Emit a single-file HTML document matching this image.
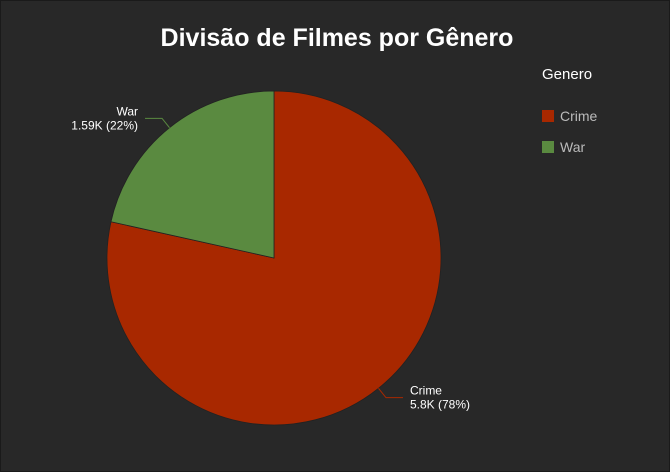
<!DOCTYPE html>
<html><head><meta charset="utf-8"><style>
html,body{margin:0;padding:0;background:#282828;}
svg{display:block;font-family:"Liberation Sans",sans-serif;}
</style></head><body>
<svg width="670" height="472" viewBox="0 0 670 472">
<rect x="0" y="0" width="670" height="472" fill="#282828" stroke="#1a1a1a" stroke-width="2"/>
<text x="337" y="46" text-anchor="middle" fill="#ffffff" font-size="25" font-weight="bold">Divisão de Filmes por Gênero</text>
<g id="slices"></g>
<g id="labels"></g>
<text x="542" y="79" fill="#ffffff" font-size="15">Genero</text>
<g id="legend"></g>
</svg>
<script>
const categories = ["Crime", "War"];
const values = [5800, 1590];
const valueLabels = ["5.8K", "1.59K"];
const colors = ["#a82800", "#5a8a40"];
const NS = "http://www.w3.org/2000/svg";
const cx = 274, cy = 258, r = 167;
const total = values.reduce((a, b) => a + b, 0);
const slices = document.getElementById("slices");
const labels = document.getElementById("labels");
const legend = document.getElementById("legend");
function pt(a, rr) { return [cx + rr * Math.sin(a), cy - rr * Math.cos(a)]; }
let start = 0;
values.forEach((v, i) => {
  const ang = v / total * 2 * Math.PI;
  const end = start + ang;
  const [x1, y1] = pt(start, r), [x2, y2] = pt(end, r);
  const p = document.createElementNS(NS, "path");
  p.setAttribute("d", `M${cx},${cy} L${x1},${y1} A${r},${r} 0 ${ang > Math.PI ? 1 : 0} 1 ${x2},${y2} Z`);
  p.setAttribute("fill", colors[i]);
  p.setAttribute("stroke", "#222");
  p.setAttribute("stroke-width", "0.8");
  
  
  slices.appendChild(p);
  const mid = start + ang / 2;
  const right = Math.sin(mid) >= 0;
  const [ex, ey] = pt(mid, r);
  const [bx, by] = pt(mid, r + 12);
  const hx = bx + (right ? 17 : -17);
  const l = document.createElementNS(NS, "polyline");
  l.setAttribute("points", `${ex},${ey} ${bx},${by} ${hx},${by}`);
  l.setAttribute("fill", "none");
  l.setAttribute("stroke", colors[i]);
  l.setAttribute("stroke-width", "1");
  
  
  labels.appendChild(l);
  const tx = right ? hx + 7 : hx - 7;
  const t = document.createElementNS(NS, "text");
  t.setAttribute("x", tx);
  t.setAttribute("y", by - 3);
  t.setAttribute("text-anchor", right ? "start" : "end");
  t.setAttribute("fill", "#ffffff");
  t.setAttribute("font-size", "12");
  const s1 = document.createElementNS(NS, "tspan");
  s1.setAttribute("x", tx);
  s1.textContent = categories[i];
  const s2 = document.createElementNS(NS, "tspan");
  s2.setAttribute("x", tx);
  s2.setAttribute("dy", "14");
  s2.textContent = valueLabels[i] + " (" + Math.round(v / total * 100) + "%)";
  t.appendChild(s1); t.appendChild(s2);
  
  
  labels.appendChild(t);
  const ly = 110 + i * 31;
  const sw = document.createElementNS(NS, "rect");
  sw.setAttribute("x", 542); sw.setAttribute("y", ly);
  sw.setAttribute("width", 12); sw.setAttribute("height", 12);
  sw.setAttribute("fill", colors[i]);
  
  
  legend.appendChild(sw);
  const lt = document.createElementNS(NS, "text");
  lt.setAttribute("x", 560); lt.setAttribute("y", ly + 11);
  lt.setAttribute("fill", "#bbbbbb");
  lt.setAttribute("font-size", "14");
  lt.textContent = categories[i];
  
  
  legend.appendChild(lt);
  start = end;
});
</script>
</body></html>
